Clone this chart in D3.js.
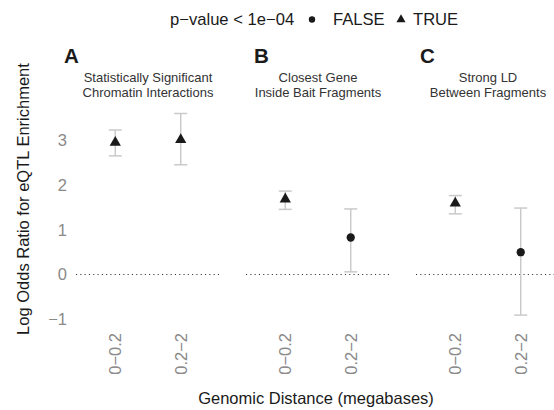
<!DOCTYPE html>
<html><head><meta charset="utf-8">
<script src="https://cdn.jsdelivr.net/npm/d3@7"></script>
<style>body{margin:0;background:#fff}text{font-family:"Liberation Sans",Arial,sans-serif}</style>
</head><body><svg id="c" width="554" height="410"></svg>
<script>
const panels = ["A","B","C"];
const panelTitles = [["Statistically Significant","Chromatin Interactions"],["Closest Gene","Inside Bait Fragments"],["Strong LD","Between Fragments"]];
const categories = ["0\u22120.2","0.2\u22122"];
const estimate = [[2.96,3.02],[1.69,0.83],[1.60,0.50]];
const lower = [[2.66,2.46],[1.46,0.06],[1.36,-0.91]];
const upper = [[3.24,3.61],[1.87,1.47],[1.77,1.49]];
const significant = [[true,true],[true,false],[true,false]];
const yTicks = [-1,0,1,2,3];

const FONT = "Liberation Sans, Arial, sans-serif";
const svg = d3.select("#c");
const y = d3.scaleLinear().domain([0,3]).range([274.5,140.7]);
const panelX = [[76,220],[246,390],[416,560]];
const grey = "#8a8a8a";
const dark = "#1a1a1a";

// y axis
const yAxis = d3.axisLeft(y).tickValues(yTicks).tickSize(0).tickPadding(0)
  .tickFormat(d => d<0 ? "\u2212"+Math.abs(d) : d);
const ga = svg.append("g").attr("transform","translate(67,0)").call(yAxis);
ga.select(".domain").remove();
ga.selectAll("text").attr("fill",grey).attr("font-size",16.5).attr("font-family",FONT);

svg.append("text").attr("transform","translate(29,199) rotate(-90)").attr("text-anchor","middle")
  .attr("font-size",16.5).attr("fill",dark).text("Log Odds Ratio for eQTL Enrichment");
svg.append("text").attr("x",316).attr("y",404).attr("text-anchor","middle")
  .attr("font-size",16.5).attr("fill",dark).text("Genomic Distance (megabases)");

panels.forEach((p,i) => {
  const x = d3.scalePoint().domain(categories).range(panelX[i]).padding(0.6);
  const g = svg.append("g");
  const cxPanel = (panelX[i][0]+panelX[i][1])/2;
  g.append("line").attr("x1",panelX[i][0]).attr("x2",panelX[i][1]).attr("y1",y(0)).attr("y2",y(0))
    .attr("stroke","#333").attr("stroke-width",1.1).attr("stroke-dasharray","1.1,3.2");
  g.append("text").attr("x",[64,254,420][i]).attr("y",62.5).attr("font-size",20.5).attr("font-weight","bold")
    .attr("fill",dark).text(p);
  panelTitles[i].forEach((t,j) => g.append("text").attr("x",cxPanel).attr("y",82+j*14.5)
    .attr("text-anchor","middle").attr("font-size",13).attr("fill","#333").text(t));
  const gx = svg.append("g").call(d3.axisBottom(x).tickSize(0).tickPadding(0));
  gx.select(".domain").remove();
  gx.selectAll(".tick").attr("transform",null);
  gx.selectAll("text").attr("transform",d => `translate(${x(d)},333) rotate(-90)`).attr("x",0).attr("y",0).attr("dy","0.35em")
    .attr("text-anchor","end").attr("fill",grey).attr("font-size",16.5).attr("font-family",FONT);
  categories.forEach((c,k) => {
    const cx = x(c);
    const eb = g.append("g").attr("stroke","#cacaca").attr("stroke-width",1.5);
    eb.append("line").attr("x1",cx).attr("x2",cx).attr("y1",y(lower[i][k])).attr("y2",y(upper[i][k]));
    eb.append("line").attr("x1",cx-6.5).attr("x2",cx+6.5).attr("y1",y(lower[i][k])).attr("y2",y(lower[i][k]));
    eb.append("line").attr("x1",cx-6.5).attr("x2",cx+6.5).attr("y1",y(upper[i][k])).attr("y2",y(upper[i][k]));
    const sym = significant[i][k] ? d3.symbolTriangle : d3.symbolCircle;
    const size = significant[i][k] ? 55 : 54;
    g.append("path").attr("d",d3.symbol(sym,size)()).attr("transform",`translate(${cx},${y(estimate[i][k])})`)
      .attr("fill",dark);
  });
});

const lg = svg.append("g");
lg.append("text").attr("x",170).attr("y",25).attr("font-size",16.6).attr("fill",dark).text("p\u2212value < 1e\u221204");
lg.append("path").attr("d",d3.symbol(d3.symbolCircle,32)()).attr("transform","translate(312,19.5)").attr("fill",dark);
lg.append("text").attr("x",333).attr("y",25).attr("font-size",16.6).attr("fill",dark).text("FALSE");
lg.append("path").attr("d",d3.symbol(d3.symbolTriangle,36)()).attr("transform","translate(401,19.5)").attr("fill",dark);
lg.append("text").attr("x",413).attr("y",25).attr("font-size",16.6).attr("fill",dark).text("TRUE");
</script></body></html>
